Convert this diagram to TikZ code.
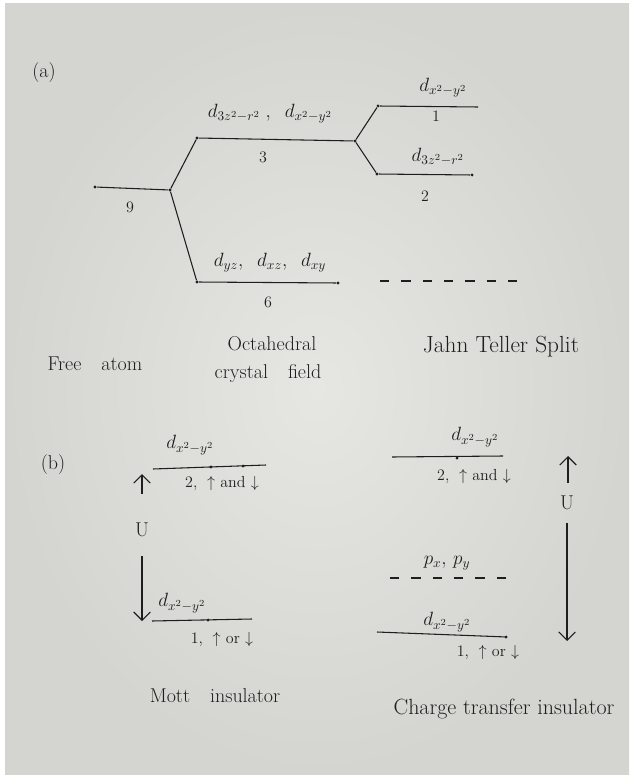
\documentclass[tikz,border=0pt]{standalone}
\usepackage{amsmath}
\usetikzlibrary{arrows.meta}
\definecolor{paper}{RGB}{230,230,227}
\definecolor{paperedge}{RGB}{212,212,208}
\definecolor{ink}{RGB}{30,30,30}
\tikzset{
  lvl/.style={ink,thick},                                   % energy level
  dlvl/.style={ink,thick,dash pattern=on 7pt off 9pt},      % empty level
  dot/.style={circle,fill=ink,inner sep=0.8pt},             % pen dot
  lab/.style={ink,font=\fontsize{14}{16}\selectfont},
  num/.style={ink,font=\fontsize{12}{14}\selectfont},
  captxt/.style={ink,font=\fontsize{15}{18}\selectfont},
  uarr/.style={-{Straight Barb[length=2.2mm]},ink,thick},
}

\begin{document}
\begin{tikzpicture}[x=0.75pt,y=-0.75pt]
  \fill[white] (0,0) rectangle (629,777);
  \shade[inner color=paper,outer color=paperedge] (5,4) rectangle (629,774);
  \useasboundingbox (0,0) rectangle (629,777);
  % (a) crystal field splitting
  \node[captxt] (pa) at (44,73) {(a)};
  \node[dot] (fa) at (95,187) {};
  \node[dot] (oc) at (170,190) {};
  \node[dot] (eg) at (197,138) {};
  \node[dot] (egR) at (355,141) {};
  \node[dot] (tg) at (197,282) {};
  \node[dot] (tgR) at (338,283) {};
  \node[dot] (xy) at (378,106) {};
  \coordinate (xyR) at (478,107);
  \node[dot] (zz) at (377,174) {};
  \node[dot] (zzR) at (472,175) {};
  \coordinate (jtA) at (380,281);
  \coordinate (jtB) at (522,281);
  \draw[lvl] (fa) -- (oc) -- (eg) -- (egR);
  \draw[lvl] (oc) -- (tg) -- (tgR);
  \draw[lvl] (egR) -- (xy) -- (xyR);
  \draw[lvl] (egR) -- (zz) -- (zzR);
  \draw[dlvl] (jtA) -- (jtB);
  \node[num] (n9) at (130,207) {9};
  \node[lab] (egl) at (270,114) {$d_{3z^2-r^2}\;,\;\; d_{x^2-y^2}$};
  \node[num] (n3) at (263,157) {3};
  \node[lab] (tgl) at (270,263) {$d_{yz},\;\; d_{xz},\;\; d_{xy}$};
  \node[num] (n6) at (268,302) {6};
  \node[lab] (xyl) at (443,88) {$d_{x^2-y^2}$};
  \node[num] (n1) at (436,116) {1};
  \node[lab] (zzl) at (438,157) {$d_{3z^2-r^2}$};
  \node[num] (n2) at (425,196) {2};
  \node[captxt] (c1) at (95,364) {Free\quad atom};
  \node[captxt] (c2) at (272,344) {Octahedral};
  \node[captxt] (c3) at (268,374) {crystal\quad field};
  \node[captxt,font=\fontsize{17.5}{20}\selectfont] (c4) at (501,347) {Jahn Teller Split};
  % (b) Mott insulator
  \node[captxt] (pb) at (53,465) {(b)};
  \coordinate (mUa) at (153,469);
  \coordinate (mUb) at (266,465);
  \draw[lvl] (mUa) -- (mUb);
  \node[dot] at (211,467) {};
  \node[dot] at (243,466) {};
  \node[lab] (mUl) at (190,445) {$d_{x^2-y^2}$};
  \node[num] (mUn) at (222,483) {2,\; $\uparrow$ and $\downarrow$};
  \coordinate (mA1) at (142,494);
  \coordinate (mA2) at (142,474);
  \draw[uarr] (mA1) -- (mA2);
  \node[captxt] (mU) at (142,530) {U};
  \coordinate (mB1) at (142,556);
  \coordinate (mB2) at (142,621);
  \draw[uarr] (mB1) -- (mB2);
  \coordinate (mLa) at (152,621);
  \coordinate (mLb) at (252,619);
  \draw[lvl] (mLa) -- (mLb);
  \node[dot] at (208,620) {};
  \node[lab] (mLl) at (182,603) {$d_{x^2-y^2}$};
  \node[num] (mLn) at (222,639) {1,\; $\uparrow$ or $\downarrow$};
  \node[captxt] (c5) at (215,696) {Mott\quad insulator};
  % (b) charge transfer insulator
  \coordinate (tUa) at (392,457);
  \coordinate (tUb) at (503,456);
  \draw[lvl] (tUa) -- (tUb);
  \node[dot] at (457,458) {};
  \node[lab] (tUl) at (475,437) {$d_{x^2-y^2}$};
  \node[num] (tUn) at (474,476) {2,\; $\uparrow$ and $\downarrow$};
  \coordinate (tA1) at (568,483);
  \coordinate (tA2) at (568,456);
  \draw[uarr] (tA1) -- (tA2);
  \node[captxt] (tU) at (567,503) {U};
  \coordinate (tB1) at (567,523);
  \coordinate (tB2) at (567,641);
  \draw[uarr] (tB1) -- (tB2);
  \node[lab] (pl) at (447,563) {$p_x,\, p_y$};
  \coordinate (pA) at (390,578);
  \coordinate (pB) at (517,578);
  \draw[dlvl] (pA) -- (pB);
  \coordinate (tLa) at (377,632);
  \coordinate (tLb) at (507,637);
  \draw[lvl] (tLa) -- (tLb);
  \node[dot] at (506,637) {};
  \node[lab] (tLl) at (447,622) {$d_{x^2-y^2}$};
  \node[num] (tLn) at (488,652) {1,\; $\uparrow$ or $\downarrow$};
  \node[captxt,font=\fontsize{16.5}{19}\selectfont] (c6) at (504,709) {Charge transfer insulator};
\end{tikzpicture}
\end{document}
